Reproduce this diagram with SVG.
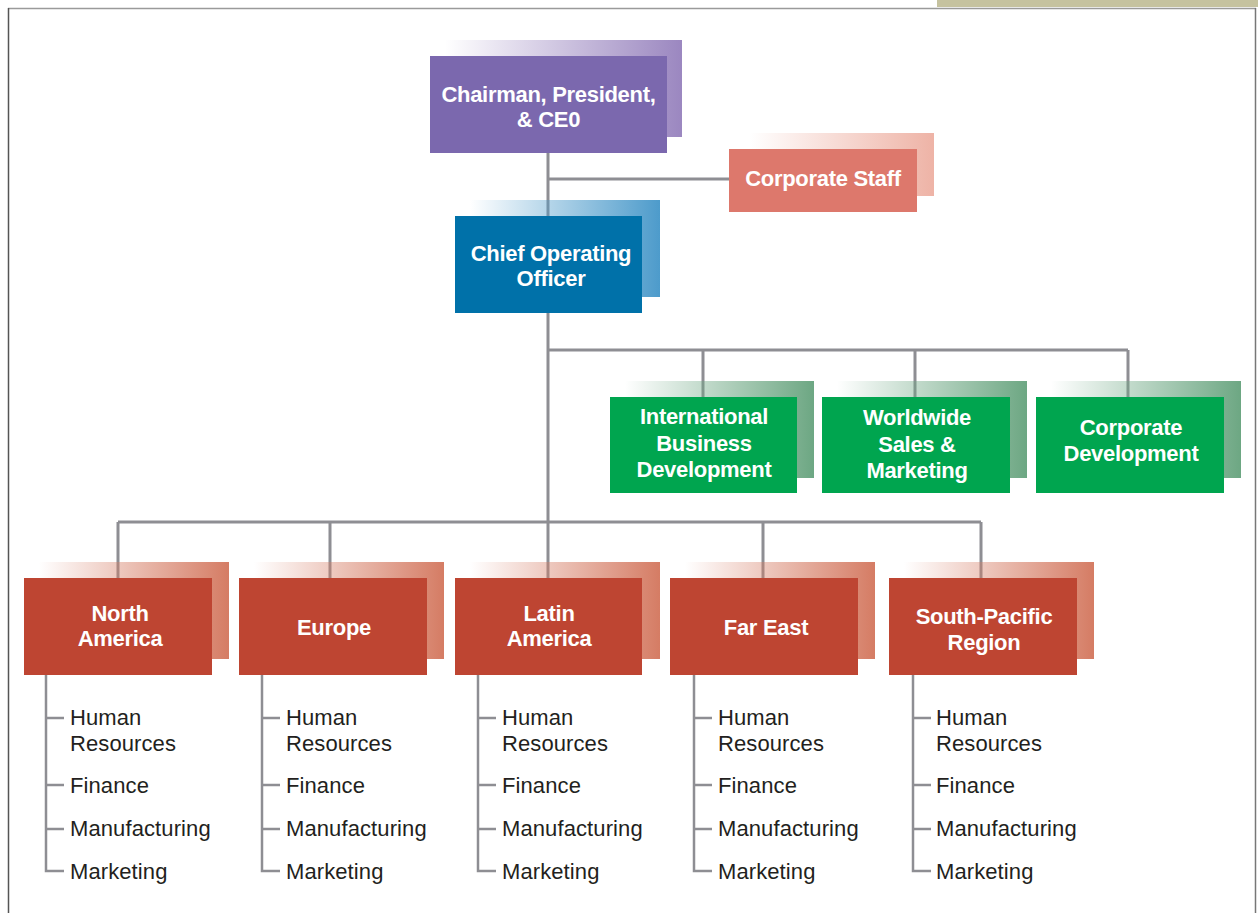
<svg xmlns="http://www.w3.org/2000/svg" width="1258" height="913" viewBox="0 0 1258 913">
<style>
.t{font-family:"Liberation Sans",Arial,sans-serif;font-weight:bold;font-size:22px;fill:#fff;text-anchor:middle;letter-spacing:-0.3px}
.s{font-family:"Liberation Sans",Arial,sans-serif;font-size:22px;fill:#231f20;letter-spacing:0.1px}
.c{stroke:#8e8e93;stroke-width:3;fill:none}
.l{stroke:#8e8e93;stroke-width:2.5;fill:none}
</style>
<defs>
<linearGradient id="gP" x1="0" x2="1" y1="0" y2="0"><stop offset="0" stop-color="#9b87c0" stop-opacity="0"/><stop offset="1" stop-color="#9b87c0"/></linearGradient>
<linearGradient id="gS" x1="0" x2="1" y1="0" y2="0"><stop offset="0" stop-color="#eeb3a6" stop-opacity="0"/><stop offset="1" stop-color="#eeb3a6"/></linearGradient>
<linearGradient id="gB" x1="0" x2="1" y1="0" y2="0"><stop offset="0" stop-color="#4d9bcb" stop-opacity="0"/><stop offset="1" stop-color="#4d9bcb"/></linearGradient>
<linearGradient id="gG" x1="0" x2="1" y1="0" y2="0"><stop offset="0" stop-color="#6da783" stop-opacity="0"/><stop offset="1" stop-color="#6da783"/></linearGradient>
<linearGradient id="gR" x1="0" x2="1" y1="0" y2="0"><stop offset="0" stop-color="#d57c64" stop-opacity="0"/><stop offset="1" stop-color="#d57c64"/></linearGradient>
</defs>
<rect x="0" y="0" width="1258" height="913" fill="#fff"/>
<g id="frame">
<rect x="937" y="0" width="321" height="7" fill="#c5c29f"/>
<line x1="8" y1="8.5" x2="1256" y2="8.5" stroke="#9a9a9a" stroke-width="1.5"/>
<line x1="8.5" y1="8" x2="8.5" y2="913" stroke="#555" stroke-width="1.5"/>
<line x1="1255.5" y1="8" x2="1255.5" y2="913" stroke="#777" stroke-width="1.5"/>
</g>
<g id="connectors">
<path class="c" d="M548 153V216M548 179H729M548 313V522M548 350H1128M703 350V397M915 350V397M1128 350V397M118 522H981M118 522V578M330 522V578M548 522V578M763 522V578M981 522V578"/>
<path class="l" d="M46 675V871H64M46 718H64M46 785H64M46 829H64"/>
<path class="l" d="M262 675V871H280M262 718H280M262 785H280M262 829H280"/>
<path class="l" d="M478 675V871H496M478 718H496M478 785H496M478 829H496"/>
<path class="l" d="M694 675V871H712M694 718H712M694 785H712M694 829H712"/>
<path class="l" d="M913 675V871H931M913 718H931M913 785H931M913 829H931"/>
</g>
<g id="ceo">
<rect x="445" y="40" width="237" height="97" fill="url(#gP)"/>
<rect x="430" y="56" width="237" height="97" fill="#7b68ae"/>
<text class="t" x="548.5" y="102">Chairman, President,</text>
<text class="t" x="548.5" y="127">&amp; CE0</text>
</g>
<g id="corporate-staff">
<rect x="750" y="133" width="184" height="63" fill="url(#gS)"/>
<rect x="729" y="149" width="188" height="63" fill="#dd786c"/>
<text class="t" x="823" y="186">Corporate Staff</text>
</g>
<g id="coo">
<rect x="470" y="200" width="190" height="97" fill="url(#gB)"/>
<rect x="455" y="216" width="187" height="97" fill="#0071a9"/>
<text class="t" x="551" y="261">Chief Operating</text>
<text class="t" x="551" y="286">Officer</text>
</g>
<g id="intl-bd">
<rect x="625" y="381" width="189" height="97" fill="url(#gG)"/>
<rect x="610" y="397" width="187" height="96" fill="#00a54f"/>
<text class="t" x="704" y="424">International</text>
<text class="t" x="704" y="451">Business</text>
<text class="t" x="704" y="477">Development</text>
</g>
<g id="worldwide-sales">
<rect x="837" y="381" width="190" height="97" fill="url(#gG)"/>
<rect x="822" y="397" width="188" height="96" fill="#00a54f"/>
<text class="t" x="917" y="425">Worldwide</text>
<text class="t" x="917" y="452">Sales &amp;</text>
<text class="t" x="917" y="478">Marketing</text>
</g>
<g id="corporate-dev">
<rect x="1051" y="381" width="190" height="97" fill="url(#gG)"/>
<rect x="1036" y="397" width="188" height="96" fill="#00a54f"/>
<text class="t" x="1131" y="435">Corporate</text>
<text class="t" x="1131" y="461">Development</text>
</g>
<g id="north-america">
<rect x="39" y="562" width="190" height="97" fill="url(#gR)"/>
<rect x="24" y="578" width="188" height="97" fill="#be4532"/>
<text class="t" x="120" y="621">North</text>
<text class="t" x="120" y="646">America</text>
<text class="s" x="70" y="725">Human</text>
<text class="s" x="70" y="751">Resources</text>
<text class="s" x="70" y="793">Finance</text>
<text class="s" x="70" y="836">Manufacturing</text>
<text class="s" x="70" y="879">Marketing</text>
</g>
<g id="europe">
<rect x="254" y="562" width="190" height="97" fill="url(#gR)"/>
<rect x="239" y="578" width="188" height="97" fill="#be4532"/>
<text class="t" x="334" y="635">Europe</text>
<text class="s" x="286" y="725">Human</text>
<text class="s" x="286" y="751">Resources</text>
<text class="s" x="286" y="793">Finance</text>
<text class="s" x="286" y="836">Manufacturing</text>
<text class="s" x="286" y="879">Marketing</text>
</g>
<g id="latin-america">
<rect x="470" y="562" width="190" height="97" fill="url(#gR)"/>
<rect x="455" y="578" width="187" height="97" fill="#be4532"/>
<text class="t" x="549" y="621">Latin</text>
<text class="t" x="549" y="646">America</text>
<text class="s" x="502" y="725">Human</text>
<text class="s" x="502" y="751">Resources</text>
<text class="s" x="502" y="793">Finance</text>
<text class="s" x="502" y="836">Manufacturing</text>
<text class="s" x="502" y="879">Marketing</text>
</g>
<g id="far-east">
<rect x="685" y="562" width="190" height="97" fill="url(#gR)"/>
<rect x="670" y="578" width="188" height="97" fill="#be4532"/>
<text class="t" x="766" y="635">Far East</text>
<text class="s" x="718" y="725">Human</text>
<text class="s" x="718" y="751">Resources</text>
<text class="s" x="718" y="793">Finance</text>
<text class="s" x="718" y="836">Manufacturing</text>
<text class="s" x="718" y="879">Marketing</text>
</g>
<g id="south-pacific">
<rect x="904" y="562" width="190" height="97" fill="url(#gR)"/>
<rect x="889" y="578" width="188" height="97" fill="#be4532"/>
<text class="t" x="984" y="624">South-Pacific</text>
<text class="t" x="984" y="650">Region</text>
<text class="s" x="936" y="725">Human</text>
<text class="s" x="936" y="751">Resources</text>
<text class="s" x="936" y="793">Finance</text>
<text class="s" x="936" y="836">Manufacturing</text>
<text class="s" x="936" y="879">Marketing</text>
</g>
</svg>
